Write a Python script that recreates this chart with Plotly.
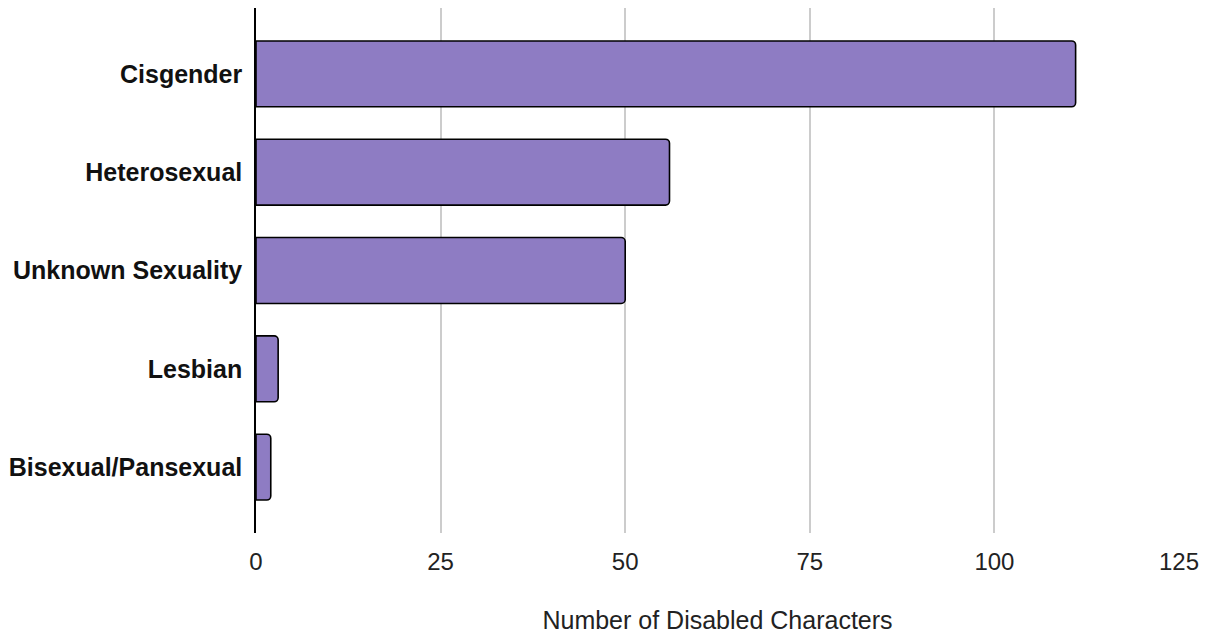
import plotly.graph_objects as go

categories = ["Cisgender", "Heterosexual", "Unknown Sexuality", "Lesbian", "Bisexual/Pansexual"]
values = [111, 56, 50, 3, 2]
x_ticks = [0, 25, 50, 75, 100, 125]

fig = go.Figure(go.Bar(
    x=values,
    y=categories,
    orientation="h",
    width=0.67,
    marker=dict(color="#8e7cc3", line=dict(color="#000000", width=1.6), cornerradius=4),
))

fig.update_layout(
    width=1212, height=634,
    margin=dict(l=248, r=41, t=0, b=109),
    plot_bgcolor="white", paper_bgcolor="white",
    font=dict(family="Liberation Sans, Arial, sans-serif", size=24, color="#222222"),
    showlegend=False,
)
fig.update_xaxes(
    range=[0, 125],
    tickvals=x_ticks,
    ticktext=[str(v) for v in x_ticks],
    showgrid=True, gridcolor="#cccccc", gridwidth=2,
    zeroline=False,
    showline=False,
    ticks="", ticklabelstandoff=12,
    tickfont=dict(size=24, color="#222222"),
    title=dict(text="Number of Disabled Characters", standoff=37,
               font=dict(size=25, color="#222222")),
)
fig.update_yaxes(
    type="category",
    range=[4.67, -0.67],
    showline=True, linecolor="#000000", linewidth=1.5,
    showgrid=False, ticks="", ticklabelstandoff=7,
    tickfont=dict(size=25, color="#111111", family="Liberation Sans, Arial, sans-serif", weight="bold"),
)

fig.write_html("out.html")
